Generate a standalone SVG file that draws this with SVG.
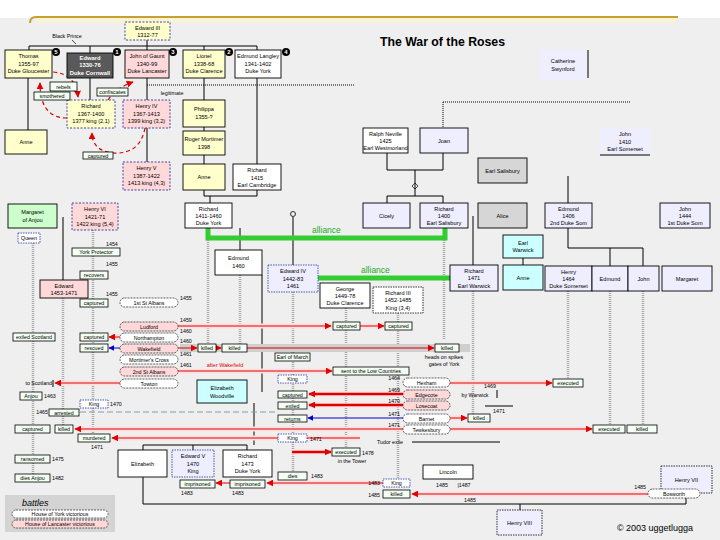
<svg xmlns="http://www.w3.org/2000/svg" width="720" height="540" viewBox="0 0 720 540">
<defs>
<style>
text{font-family:"Liberation Sans",Arial,sans-serif;fill:#000}
.t{font-size:5.6px;text-anchor:middle}
.tw{font-size:5.8px;text-anchor:middle;fill:#fff;font-weight:bold}
.s{font-size:5.3px;text-anchor:middle}
.sl{font-size:5.3px;text-anchor:start}
.sr{font-size:5.3px;text-anchor:end}
.bx{stroke:#000;stroke-width:0.9}
.y{fill:#ffffcc}.p{fill:#ffd9d9}.w{fill:#fff}.l{fill:#eeeeff}.g{fill:#d6d6d6}.c{fill:#ccffff}.gr{fill:#ccffcc}.dk{fill:#595959}
.dt{stroke:#333399;stroke-dasharray:2 1.5}
.ln{stroke:#000;stroke-width:1;fill:none}
.tl{stroke:#a8a8a8;stroke-width:2.5;stroke-dasharray:1 1;fill:none}
.ev{fill:#f2fff2;stroke:#000;stroke-width:0.8}
.kd{fill:#fff;stroke:#2233aa;stroke-width:0.8;stroke-dasharray:1.5 1}
.ov{stroke:#222;stroke-width:0.7;stroke-dasharray:2 1}
.halo{stroke:#ffe0e0;stroke-width:5;fill:none}
.rl{stroke:#dd0000;stroke-width:1;fill:none}
.rt{stroke:#dd0000;stroke-width:2.5;fill:none}
.bl{stroke:#0000cc;stroke-width:1;fill:none}
.rd{stroke:#dd0000;stroke-width:1.2;stroke-dasharray:4 3;fill:none}
.gn{stroke:#33cc33;stroke-width:5;fill:none}
.dl{stroke:#000;stroke-width:1;stroke-dasharray:1 1;fill:none}
.num{font-size:6px;font-weight:bold;fill:#fff;text-anchor:middle}
</style>
<marker id="ar" viewBox="0 0 10 10" refX="9" refY="5" markerWidth="7" markerHeight="7" markerUnits="userSpaceOnUse" orient="auto"><path d="M0,0L10,5L0,10z" fill="#e00000"/></marker>
<marker id="ab" viewBox="0 0 10 10" refX="9" refY="5" markerWidth="6" markerHeight="6" markerUnits="userSpaceOnUse" orient="auto"><path d="M0,0L10,5L0,10z" fill="#0000cc"/></marker>
</defs>

<rect x="0" y="0" width="720" height="540" fill="#efefef"/>
<rect x="0" y="0" width="720" height="18" fill="#ffffff"/>
<rect x="36" y="18" width="640" height="5" fill="#f8f3d6"/>
<path d="M30,23 Q30,17 36,17 L678,17" stroke="#c8a030" stroke-width="2" fill="none"/>
<text x="380" y="46" font-size="12" font-weight="bold" textLength="125" lengthAdjust="spacingAndGlyphs">The War of the Roses</text>

<g id="connectors">
<path class="tl" d="M33,243V478M63,298V426M93,230V436M208,238V345M240,275V345M293,292V472M346,308V448M398,313V478M444,238V340M473,291V414M568,291V379M610,291V425M643,291V425"/>
<path class="ln" d="M29,46H257M147,40V46M29,46V50M90,46V53M147,46V50M204,46V50M257,46V164M28,78V130M90,78V100M147,78V100M147,128V162M204,78V100M204,127V131M204,155V164M204,190V196H257V190M210,196V203M387,153V170H443V153M415,170V196M387,196H443M387,196V203M443,196V203M473,216V265M523,258V265M568,176V203M568,228V248H643V266M610,248V266M588,50V78M240,228V250M262,275V392M293,217V265M254,403V445M143,445H247M143,445V450M193,445V450M247,445V450M143,477V504H686V493M520,504V510M63,217V280"/>
<circle cx="293" cy="214" r="2.5" fill="none" stroke="#000" stroke-width="0.8"/>
<path d="M412,186L415,183L418,186L415,189Z" fill="none" stroke="#000" stroke-width="0.7"/>
<path class="dl" d="M147,85H355M443,102H630M443,102V128"/>
<text class="s" x="172" y="95">legitimate</text>
<path d="M72,40L76,44" stroke="#000" stroke-width="0.7"/>
<path class="rd" d="M67,118Q40,118 40,83" marker-end="url(#ar)"/>
<path class="rd" d="M53,72Q76,74 78,97" marker-end="url(#ar)"/>
<path class="rd" d="M108,100Q116,88 133,82" marker-end="url(#ar)"/>
<path class="rd" d="M145,128Q140,155 112,153Q92,150 92,133" marker-end="url(#ar)"/>
<path class="gn" d="M208,228V238H445V228"/>
<path class="gn" d="M318,278H450"/>
<text x="312" y="233" font-size="8.5" style="fill:#22aa22">alliance</text>
<text x="361" y="273" font-size="8.5" style="fill:#22aa22">alliance</text>
<path class="halo" d="M178,326H412M111,337H120M57,383H120M178,371H333M312,394H403M312,405H403M78,429H403M450,429H593M113,438H360M450,383H553M450,418H468M268,483H383M413,494H648M292,452H332"/>
<rect x="180" y="344" width="290" height="8" fill="#cfcfcf"/>
<path class="rl" d="M178,326H331" marker-end="url(#ar)"/>
<path class="rl" d="M360,326H384" marker-end="url(#ar)"/>
<path class="rl" d="M120,337H109" marker-end="url(#ar)"/>
<path class="bl" d="M120,348H109" marker-end="url(#ab)"/>
<path class="rl" d="M178,348H197" marker-end="url(#ar)"/>
<path class="rl" d="M216,348H221" marker-end="url(#ar)"/>
<path class="rl" d="M247,348H434" marker-end="url(#ar)"/>
<path class="rl" d="M178,371H332" marker-end="url(#ar)"/>
<path class="rl" d="M120,383H55" marker-end="url(#ar)"/>
<path class="rl" d="M450,383H552" marker-end="url(#ar)"/>
<path class="rt" d="M403,394H309" marker-end="url(#ar)"/>
<path class="rt" d="M403,405H309" marker-end="url(#ar)"/>
<path class="bl" d="M403,418H308" marker-end="url(#ab)"/>
<path class="rl" d="M450,418H467" marker-end="url(#ar)"/>
<path class="rl" d="M403,429H75" marker-end="url(#ar)"/>
<path class="rl" d="M450,429H592" marker-end="url(#ar)"/>
<path class="rl" d="M360,438H112" marker-end="url(#ar)"/>
<path class="rt" d="M292,452H331" marker-end="url(#ar)"/>
<path class="rl" d="M383,483H267" marker-end="url(#ar)"/>
<path class="rl" d="M230,483H216" marker-end="url(#ar)"/>
<path class="rl" d="M648,494H412" marker-end="url(#ar)"/>
<path d="M80,412H278" stroke="#88a0a0" stroke-width="1.2" stroke-dasharray="6 3" fill="none"/>
<path class="ln" d="M412,442H500M485,406H513"/>
<text x="225" y="367" font-size="5.5" style="fill:#dd0000" text-anchor="middle">after Wakefield</text>
</g>

<g id="edward3"><rect class="bx y dt" x="125" y="22" width="45" height="18"/><text class="t" x="147.5" y="30">Edward III</text><text class="t" x="147.5" y="37">1312-77</text></g>
<text class="s" x="67" y="38">Black Prince</text>
<g id="thomas"><rect class="bx y" x="5" y="50" width="47" height="28"/><text class="t" x="28.5" y="58">Thomas</text><text class="t" x="28.5" y="65.5">1355-97</text><text class="t" x="28.5" y="73">Duke Gloucester</text><circle cx="56" cy="52" r="4"/><text class="num" x="56" y="54.2">5</text></g>
<g id="blackprince"><rect class="bx dk" x="67" y="53" width="46" height="25"/><text class="tw" x="90" y="60">Edward</text><text class="tw" x="90" y="67">1330-76</text><text class="tw" x="90" y="74.5">Duke Cornwall</text><circle cx="117" cy="52" r="4"/><text class="num" x="117" y="54.2">1</text></g>
<g id="gaunt"><rect class="bx p" x="125" y="50" width="44" height="28"/><text class="t" x="147" y="58">John of Gaunt</text><text class="t" x="147" y="65.5">1340-99</text><text class="t" x="147" y="73">Duke Lancaster</text><circle cx="173" cy="52" r="4"/><text class="num" x="173" y="54.2">3</text></g>
<g id="lionel"><rect class="bx y" x="183" y="50" width="42" height="28"/><text class="t" x="204" y="58">Lionel</text><text class="t" x="204" y="65.5">1338-68</text><text class="t" x="204" y="73">Duke Clarence</text><circle cx="229" cy="52" r="4"/><text class="num" x="229" y="54.2">2</text></g>
<g id="edmundlangley"><rect class="bx w" x="235" y="50" width="46" height="28"/><text class="t" x="258" y="58">Edmund Langley</text><text class="t" x="258" y="65.5">1341-1402</text><text class="t" x="258" y="73">Duke York</text><circle cx="286" cy="52" r="4"/><text class="num" x="286" y="54.2">4</text></g>
<g id="swynford"><rect class="l" x="540" y="50" width="46" height="30"/><text class="t" x="563" y="63">Catherine</text><text class="t" x="563" y="71">Swynford</text></g>

<g id="anne1"><rect class="bx y" x="5" y="130" width="42" height="24"/><text class="t" x="26" y="144">Anne</text></g>
<g id="richard2"><rect class="bx y dt" x="67" y="100" width="48" height="28"/><text class="t" x="91" y="108">Richard</text><text class="t" x="91" y="115.5">1367-1400</text><text class="t" x="91" y="123">1377 king (2,1)</text></g>
<g id="henry4"><rect class="bx p dt" x="123" y="100" width="47" height="28"/><text class="t" x="146.5" y="108">Henry IV</text><text class="t" x="146.5" y="115.5">1367-1413</text><text class="t" x="146.5" y="123">1399 king (3,2)</text></g>
<g id="henry5"><rect class="bx p dt" x="123" y="162" width="47" height="28"/><text class="t" x="146.5" y="170">Henry V</text><text class="t" x="146.5" y="177.5">1387-1422</text><text class="t" x="146.5" y="185">1413 king (4,3)</text></g>
<g id="philippa"><rect class="bx y" x="183" y="100" width="42" height="27"/><text class="t" x="204" y="111">Philippa</text><text class="t" x="204" y="119">1355-?</text></g>
<g id="roger"><rect class="bx y" x="183" y="131" width="42" height="24"/><text class="t" x="204" y="141">Roger Mortimer</text><text class="t" x="204" y="149">1398</text></g>
<g id="anne2"><rect class="bx y" x="183" y="164" width="42" height="26"/><text class="t" x="204" y="179">Anne</text></g>
<g id="cambridge"><rect class="bx w" x="233" y="164" width="48" height="26"/><text class="t" x="257" y="172">Richard</text><text class="t" x="257" y="179.5">1415</text><text class="t" x="257" y="187">Earl Cambridge</text></g>
<g id="yorkduke"><rect class="bx w" x="185" y="203" width="47" height="25"/><text class="t" x="208.5" y="210.5">Richard</text><text class="t" x="208.5" y="217.5">1411-1460</text><text class="t" x="208.5" y="224.5">Duke York</text></g>

<g id="lbl-top">
<rect class="ev" x="50" y="82" width="27" height="9"/><text class="s" x="63.5" y="88.5">rebels</text>
<rect class="ev" x="34" y="92" width="36" height="8"/><text class="s" x="52" y="98">smothered</text>
<rect class="ev" x="97" y="88" width="31" height="8"/><text class="s" x="112.5" y="94">confiscates</text>
<rect class="ev" x="83" y="152" width="30" height="7"/><text class="s" x="98" y="157.5">captured</text>
</g>

<g id="neville"><rect class="bx w" x="363" y="128" width="45" height="25"/><text class="t" x="385.5" y="135.5">Ralph Neville</text><text class="t" x="385.5" y="142.5">1425</text><text class="t" x="385.5" y="149.5">Earl Westmorland</text></g>
<g id="joan"><rect class="bx l" x="420" y="128" width="48" height="25"/><text class="t" x="444" y="142.5">Joan</text></g>
<g id="salisburyearl"><rect class="bx g" x="478" y="158" width="49" height="25"/><text class="t" x="502.5" y="172.5">Earl Salisbury</text></g>
<g id="johnsom"><rect class="l" x="600" y="128" width="50" height="27"/><path class="ln" d="M600,155H650"/><text class="t" x="625" y="136">John</text><text class="t" x="625" y="143.5">1410</text><text class="t" x="625" y="151">Earl Somerset</text></g>
<g id="cicely"><rect class="bx l" x="363" y="203" width="47" height="25"/><text class="t" x="386.5" y="217.5">Cicely</text></g>
<g id="salisbury"><rect class="bx l" x="420" y="203" width="48" height="25"/><text class="t" x="444" y="210.5">Richard</text><text class="t" x="444" y="217.5">1400</text><text class="t" x="444" y="224.5">Earl Salisbury</text></g>
<g id="alice"><rect class="bx g" x="478" y="203" width="49" height="25"/><text class="t" x="502.5" y="217.5">Alice</text></g>
<g id="warwickearl"><rect class="bx c" x="503" y="235" width="40" height="23"/><text class="t" x="523" y="245">Earl</text><text class="t" x="523" y="252">Warwick</text></g>
<g id="anne3"><rect class="bx c" x="503" y="265" width="40" height="25"/><text class="t" x="523" y="279.5">Anne</text></g>
<g id="warwick"><rect class="bx l" x="450" y="265" width="48" height="26"/><text class="t" x="474" y="272.5">Richard</text><text class="t" x="474" y="280">1471</text><text class="t" x="474" y="287.5">Earl Warwick</text></g>
<g id="edmundsom"><rect class="bx l" x="545" y="203" width="47" height="25"/><text class="t" x="568.5" y="210.5">Edmund</text><text class="t" x="568.5" y="217.5">1406</text><text class="t" x="568.5" y="224.5">2nd Duke Som</text></g>
<g id="john1som"><rect class="bx l" x="660" y="203" width="50" height="25"/><text class="t" x="685" y="210.5">John</text><text class="t" x="685" y="217.5">1444</text><text class="t" x="685" y="224.5">1st Duke Som</text></g>
<g id="henrysom"><rect class="bx l" x="545" y="266" width="47" height="25"/><text class="t" x="568.5" y="273.5">Henry</text><text class="t" x="568.5" y="280.5">1464</text><text class="t" x="568.5" y="287.5">Duke Somerset</text></g>
<g id="edmund2"><rect class="bx l" x="592" y="266" width="36" height="25"/><text class="t" x="610" y="280.5">Edmund</text></g>
<g id="john2"><rect class="bx l" x="628" y="266" width="31" height="25"/><text class="t" x="643.5" y="280.5">John</text></g>
<g id="margaret2"><rect class="bx l" x="662" y="266" width="50" height="25"/><text class="t" x="687" y="280.5">Margaret</text></g>

<g id="anjou"><rect class="bx gr" x="8" y="204" width="49" height="24"/><text class="t" x="32.5" y="214">Margaret</text><text class="t" x="32.5" y="222">of Anjou</text></g>
<g id="henry6"><rect class="bx p dt" x="72" y="203" width="46" height="27"/><text class="t" x="95" y="211">Henry VI</text><text class="t" x="95" y="218.5">1421-71</text><text class="t" x="95" y="226">1422 king (5,4)</text></g>
<g id="edward1453"><rect class="bx p" x="40" y="280" width="48" height="18"/><text class="t" x="64" y="288">Edward</text><text class="t" x="64" y="295">1453-1471</text></g>
<g id="edmund1460"><rect class="bx w" x="215" y="250" width="47" height="25"/><text class="t" x="238.5" y="260">Edmund</text><text class="t" x="238.5" y="268">1460</text></g>
<g id="edward4"><rect class="l" x="268" y="265" width="50" height="27" stroke="#2233aa" stroke-width="0.8" stroke-dasharray="1.5 1"/><text class="t" x="293" y="273">Edward IV</text><text class="t" x="293" y="280.5">1442-83</text><text class="t" x="293" y="288">1461</text></g>
<g id="george"><rect class="bx w" x="320" y="283" width="50" height="25"/><text class="t" x="345" y="290.5">George</text><text class="t" x="345" y="297.5">1449-78</text><text class="t" x="345" y="304.5">Duke Clarence</text></g>
<g id="richard3"><rect class="w" x="373" y="287" width="50" height="26" stroke="#000" stroke-width="0.8" stroke-dasharray="1.5 1"/><text class="t" x="398" y="294.5">Richard III</text><text class="t" x="398" y="302">1452-1485</text><text class="t" x="398" y="309.5">King (3,4)</text></g>
<g id="woodville"><rect class="bx c" x="197" y="380" width="50" height="23"/><text class="t" x="222" y="390">Elizabeth</text><text class="t" x="222" y="397.5">Woodville</text></g>
<g id="elizabeth"><rect class="bx w" x="118" y="450" width="49" height="27"/><text class="t" x="142.5" y="465.5">Elizabeth</text></g>
<g id="edward5"><rect class="l" x="172" y="450" width="42" height="27" stroke="#2233aa" stroke-width="0.8" stroke-dasharray="1.5 1"/><text class="t" x="193" y="458">Edward V</text><text class="t" x="193" y="465.5">1470</text><text class="t" x="193" y="473">King</text></g>
<g id="yorkprince"><rect class="bx w" x="223" y="450" width="49" height="27"/><text class="t" x="247.5" y="458">Richard</text><text class="t" x="247.5" y="465.5">1473</text><text class="t" x="247.5" y="473">Duke York</text></g>
<g id="henry7"><rect class="l" x="661" y="466" width="51" height="27" stroke="#000" stroke-width="0.8" stroke-dasharray="1.5 1"/><text class="t" x="686.5" y="481.5">Henry VII</text></g>
<g id="henry8"><rect class="l" x="497" y="510" width="45" height="25" stroke="#000" stroke-width="0.8" stroke-dasharray="1.5 1"/><text class="t" x="519.5" y="524.5">Henry VIII</text></g>
<g id="lincoln"><rect class="bx w" x="423" y="465" width="50" height="14"/><text class="t" x="448" y="474">Lincoln</text><text class="s" x="442" y="487">1485</text><text class="s" x="464" y="487">|1487</text></g>

<g id="events">
<rect class="kd" x="18" y="233" width="22" height="10"/><text class="s" x="29" y="240">Queen</text>
<text class="sl" x="106" y="246">1454</text>
<rect class="ev" x="72" y="248" width="48" height="8"/><text class="s" x="96" y="254">York Protector</text>
<text class="sl" x="106" y="266">1455</text>
<rect class="ev" x="80" y="271" width="28" height="8"/><text class="s" x="94" y="277">recovers</text>
<text class="sl" x="106" y="296">1455</text>
<rect class="ev" x="80" y="299" width="28" height="8"/><text class="s" x="94" y="305">captured</text>
<rect class="ev" x="13" y="333" width="42" height="8"/><text class="s" x="34" y="339">exiled Scotland</text>
<rect class="ev" x="80" y="333" width="28" height="8"/><text class="s" x="94" y="339">captured</text>
<rect class="ev" x="80" y="344" width="28" height="8"/><text class="s" x="94" y="350">rescued</text>
<text class="sr" x="52" y="385">to Scotland</text><path class="ln" d="M53,380V387"/>
<rect class="ev" x="20" y="392" width="22" height="8"/><text class="s" x="31" y="398">Anjou</text><text class="sl" x="44" y="398">1463</text>
<rect class="kd" x="80" y="400" width="28" height="8"/><text class="s" x="94" y="406">King</text><text class="sl" x="110" y="406">1470</text>
<text class="sr" x="48" y="414">1465</text><rect class="ev" x="49" y="409" width="30" height="7"/><text class="s" x="64" y="414.5">arrested</text>
<rect class="ev" x="15" y="425" width="35" height="8"/><text class="s" x="32.5" y="431">captured</text>
<rect class="ev" x="55" y="425" width="18" height="8"/><text class="s" x="64" y="431">killed</text>
<rect class="ev" x="78" y="434" width="32" height="8"/><text class="s" x="94" y="440">murdered</text><text class="s" x="97" y="449">1471</text>
<rect class="ev" x="15" y="455" width="35" height="8"/><text class="s" x="32.5" y="461">ransomed</text><text class="sl" x="52" y="461">1475</text>
<rect class="ev" x="15" y="474" width="35" height="8"/><text class="s" x="32.5" y="480">dies Anjou</text><text class="sl" x="52" y="480">1482</text>
<rect class="ev" x="333" y="322" width="27" height="8"/><text class="s" x="346.5" y="328">captured</text>
<rect class="ev" x="385" y="322" width="27" height="8"/><text class="s" x="398.5" y="328">captured</text>
<rect class="ev" x="198" y="344" width="18" height="8"/><text class="s" x="207" y="350">killed</text>
<rect class="ev" x="222" y="344" width="25" height="8"/><text class="s" x="234.5" y="350">killed</text>
<rect class="ev" x="435" y="344" width="24" height="8"/><text class="s" x="447" y="350">killed</text>
<text class="s" x="444" y="359">heads on spikes</text><text class="s" x="444" y="366">gates of York</text>
<rect class="ev" x="275" y="353" width="35" height="8"/><text class="s" x="292.5" y="359">Earl of March</text>
<rect class="ev" x="333" y="367" width="76" height="8"/><text class="s" x="371" y="373">sent to the Low Countries</text>
<rect class="kd" x="278" y="375" width="29" height="8"/><text class="s" x="292.5" y="381">King</text>
<rect class="ev" x="278" y="391" width="29" height="7"/><text class="s" x="292.5" y="396.5">captured</text>
<rect class="ev" x="278" y="402" width="29" height="7"/><text class="s" x="292.5" y="407.5">exiled</text>
<rect class="ev" x="278" y="415" width="29" height="7"/><text class="s" x="292.5" y="420.5">returns</text>
<rect class="kd" x="278" y="434" width="29" height="8"/><text class="s" x="292.5" y="440">King</text><text class="sl" x="310" y="441">1471</text>
<rect class="ev" x="332" y="448" width="28" height="8"/><text class="s" x="346" y="454">executed</text><text class="sl" x="362" y="455">1478</text>
<text class="s" x="352" y="463">in the Tower</text>
<rect class="ev" x="278" y="472" width="29" height="8"/><text class="s" x="292.5" y="478">dies</text><text class="sl" x="311" y="478">1483</text>
<rect class="ev" x="180" y="480" width="35" height="8"/><text class="s" x="197.5" y="486">imprisoned</text><text class="sl" x="181" y="495">1483</text>
<rect class="ev" x="230" y="480" width="35" height="8"/><text class="s" x="247.5" y="486">imprisoned</text><text class="sl" x="232" y="495">1483</text>
<rect class="kd" x="383" y="479" width="27" height="8"/><text class="s" x="396.5" y="485">King</text><text class="sr" x="380" y="485">1483</text>
<rect class="ev" x="383" y="490" width="27" height="8"/><text class="s" x="396.5" y="496">killed</text><text class="sr" x="380" y="497">1485</text>
<text class="s" x="470" y="502">1485</text>
<text class="s" x="390" y="444">Tudor exile</text>
<rect class="ev" x="553" y="379" width="30" height="8"/><text class="s" x="568" y="385">executed</text>
<text class="s" x="475" y="397">by Warwick</text><path class="ln" d="M497,390V398"/><text class="s" x="490" y="388">1469</text>
<text class="s" x="499" y="413">1471</text>
<rect class="ev" x="468" y="414" width="22" height="8"/><text class="s" x="479" y="420">killed</text>
<rect class="ev" x="593" y="425" width="32" height="8"/><text class="s" x="609" y="431">executed</text>
<rect class="ev" x="627" y="425" width="30" height="8"/><text class="s" x="642" y="431">killed</text>
</g>

<g id="battles">
<rect class="ov w" x="120" y="298" width="58" height="9" rx="4.5"/><text class="s" x="149" y="304.5">1st St Albans</text><text class="sl" x="180" y="300">1455</text>
<rect class="ov p" x="120" y="322" width="58" height="9" rx="4.5"/><text class="s" x="149" y="328.5">Ludford</text><text class="sl" x="180" y="322">1459</text>
<rect class="ov w" x="120" y="333" width="58" height="9" rx="4.5"/><text class="s" x="149" y="339.5">Northampton</text><text class="sl" x="180" y="333">1460</text>
<rect class="ov p" x="120" y="344" width="58" height="9" rx="4.5"/><text class="s" x="149" y="350.5">Wakefield</text><text class="sl" x="180" y="343">1460</text>
<rect class="ov w" x="120" y="355" width="58" height="9" rx="4.5"/><text class="s" x="149" y="361.5">Mortimer's Cross</text><text class="sl" x="180" y="356">1461</text>
<rect class="ov p" x="120" y="367" width="58" height="9" rx="4.5"/><text class="s" x="149" y="373.5">2nd St Albans</text><text class="sl" x="180" y="367">1461</text>
<rect class="ov w" x="120" y="379" width="58" height="9" rx="4.5"/><text class="s" x="149" y="385.5">Towton</text>
<rect class="ov w" x="403" y="378" width="47" height="9" rx="4.5"/><text class="s" x="426.5" y="384.5">Hexham</text><text class="sr" x="400" y="380">1464</text>
<rect class="ov p" x="403" y="390" width="47" height="9" rx="4.5"/><text class="s" x="426.5" y="396.5">Edgecote</text><text class="sr" x="400" y="392">1469</text>
<rect class="ov p" x="403" y="401" width="47" height="9" rx="4.5"/><text class="s" x="426.5" y="407.5">Losecoat</text><text class="sr" x="400" y="403">1470</text>
<rect class="ov w" x="403" y="414" width="47" height="9" rx="4.5"/><text class="s" x="426.5" y="420.5">Barnet</text><text class="sr" x="400" y="416">1471</text>
<rect class="ov w" x="403" y="425" width="47" height="9" rx="4.5"/><text class="s" x="426.5" y="431.5">Tewkesbury</text><text class="sr" x="400" y="427">1471</text>
<rect class="ov w" x="648" y="489" width="52" height="9" rx="4.5"/><text class="s" x="674" y="495.5">Bosworth</text><text class="sr" x="646" y="489">1485</text>
</g>

<g id="legend">
<rect x="5" y="495" width="110" height="37" fill="#d4d4d4"/>
<text x="22" y="506" font-size="9" font-style="italic">battles</text>
<rect class="ov w" x="12" y="510" width="96" height="8" rx="4"/><text class="s" x="60" y="516">House of York victorious</text>
<rect class="ov p" x="12" y="520" width="96" height="8" rx="4"/><text class="s" x="60" y="526">House of Lancaster victorious</text>
</g>
<text x="655" y="531" font-size="9" text-anchor="middle">© 2003 uggetlugga</text>
</svg>
